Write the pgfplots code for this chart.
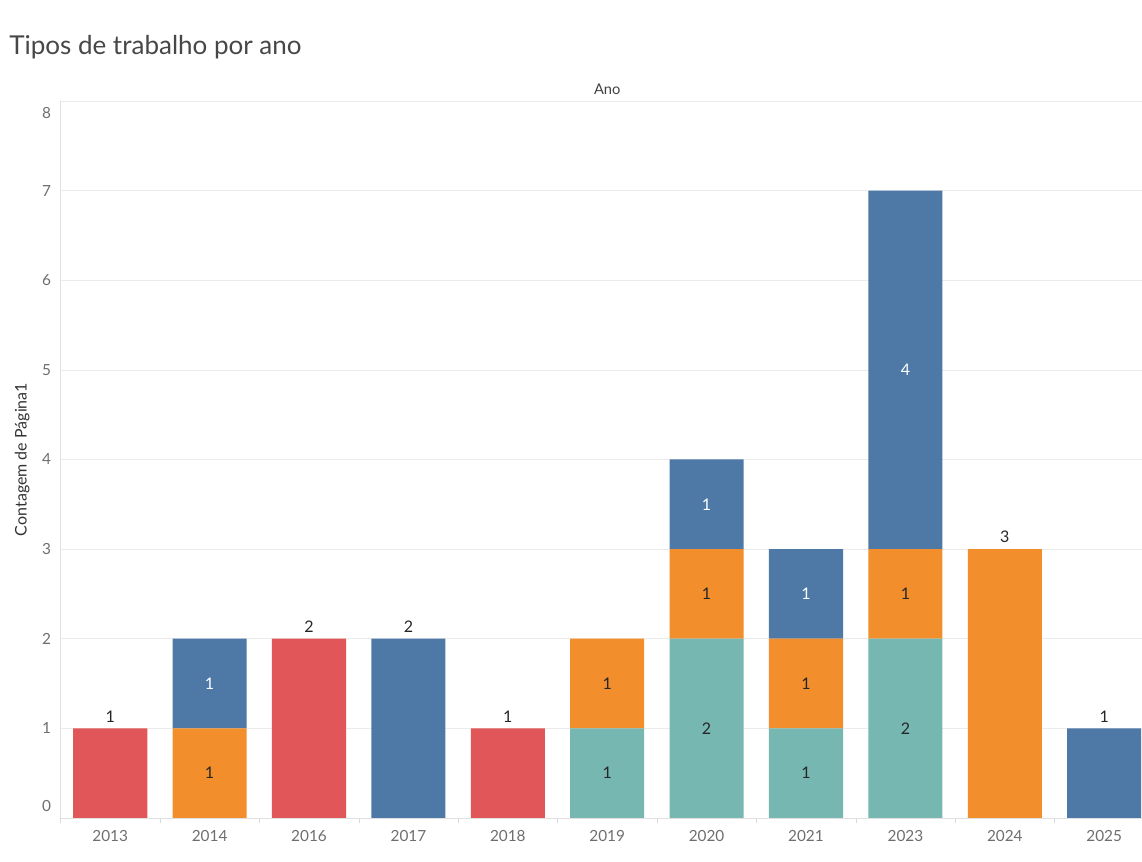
\documentclass[border=0pt]{standalone}
\usepackage{fontspec}
\setmainfont{Lato}
\usepackage{pgfplots}
\pgfplotsset{compat=1.18}

\definecolor{tblue}{HTML}{4E79A7}
\definecolor{torange}{HTML}{F28E2B}
\definecolor{tred}{HTML}{E15759}
\definecolor{tteal}{HTML}{76B7B2}
\definecolor{tickgray}{HTML}{6E6E6E}

% shared frame of both axes: 1 px = 0.75pt, right end runs past the page
\pgfplotsset{
  frame/.style={
    scale only axis, width=820pt, height=537.75pt,
    at={(45.4pt,33pt)}, anchor=south west,
    xmin=-0.5, xmax=10.5, ymin=0, ymax=8,
  },
}

\begin{document}
\begin{tikzpicture}
\useasboundingbox (0pt,0pt) rectangle (856.5pt,646.5pt);
\node[anchor=base west, inner sep=0, text=black!72,
      font=\fontsize{19.5}{23}\selectfont] at (6.75pt,605.25pt) {Tipos de trabalho por ano};

\begin{axis}[
  frame,
  ybar stacked,
  bar width=0.745,
  /pgf/number format/assume math mode=true,
  axis x line*=bottom, axis y line*=left,
  axis line style={draw=black!12},
  xtick={0,...,10},
  xticklabels={2013,2014,2016,2017,2018,2019,2020,2021,2023,2024,2025},
  minor xtick={-0.5,0.5,...,10.5},
  tick align=outside,
  major tick length=0pt,
  minor tick length=4pt,
  minor x tick style={draw=black!15},
  ytick={0,...,8},
  yticklabels={,1,2,3,4,5,6,7,},
  extra y ticks={0.134,7.866},
  extra y tick labels={0,8},
  extra y tick style={grid=none},
  ymajorgrids,
  grid style={draw=black!8},
  tick label style={font=\fontsize{11.5}{13}\selectfont, text=tickgray},
  xticklabel style={anchor=north, inner sep=0pt, yshift=-9pt},
  yticklabel style={anchor=east, inner sep=0pt, xshift=-7pt},
  ylabel={Contagem de Página1},
  ylabel style={at={(axis description cs:-0.035,0.5)}, anchor=center,
                font=\fontsize{12}{14}\selectfont, text=black!80},
  title={Ano},
  title style={at={(axis description cs:0.5,1)}, anchor=base, yshift=-1pt,
               font=\fontsize{11}{13}\selectfont, text=black!75},
]
\addplot[fill=tteal, draw=none] coordinates
  {(0,0) (1,0) (2,0) (3,0) (4,0) (5,1) (6,2) (7,1) (8,2) (9,0) (10,0)};
\addplot[fill=torange, draw=none] coordinates
  {(0,0) (1,1) (2,0) (3,0) (4,0) (5,1) (6,1) (7,1) (8,1) (9,3) (10,0)};
\addplot[fill=tblue, draw=none] coordinates
  {(0,0) (1,1) (2,0) (3,2) (4,0) (5,0) (6,1) (7,1) (8,4) (9,0) (10,1)};
\addplot[fill=tred, draw=none] coordinates
  {(0,1) (1,0) (2,2) (3,0) (4,1) (5,0) (6,0) (7,0) (8,0) (9,0) (10,0)};
\end{axis}

% value labels
\begin{axis}[frame, hide axis, clip=false,
  nodes near coords, point meta=explicit symbolic,
  every node near coord/.append style={font=\fontsize{12}{14}\selectfont, inner sep=0pt},
]
% inside light segments
\addplot[draw=none, mark=none,
  every node near coord/.append style={anchor=center, text=black!85}]
  coordinates {(1,0.5)[1] (5,0.5)[1] (5,1.5)[1] (6,1)[2] (6,2.5)[1]
               (7,0.5)[1] (7,1.5)[1] (8,1)[2] (8,2.5)[1]};
% inside blue segments
\addplot[draw=none, mark=none,
  every node near coord/.append style={anchor=center, text=white}]
  coordinates {(1,1.5)[1] (6,3.5)[1] (7,2.5)[1] (8,5)[4]};
% above single bars
\addplot[draw=none, mark=none,
  every node near coord/.append style={anchor=south, yshift=4.5pt, text=black!85}]
  coordinates {(0,1)[1] (2,2)[2] (3,2)[2] (4,1)[1] (9,3)[3] (10,1)[1]};
\end{axis}
\end{tikzpicture}
\end{document}
